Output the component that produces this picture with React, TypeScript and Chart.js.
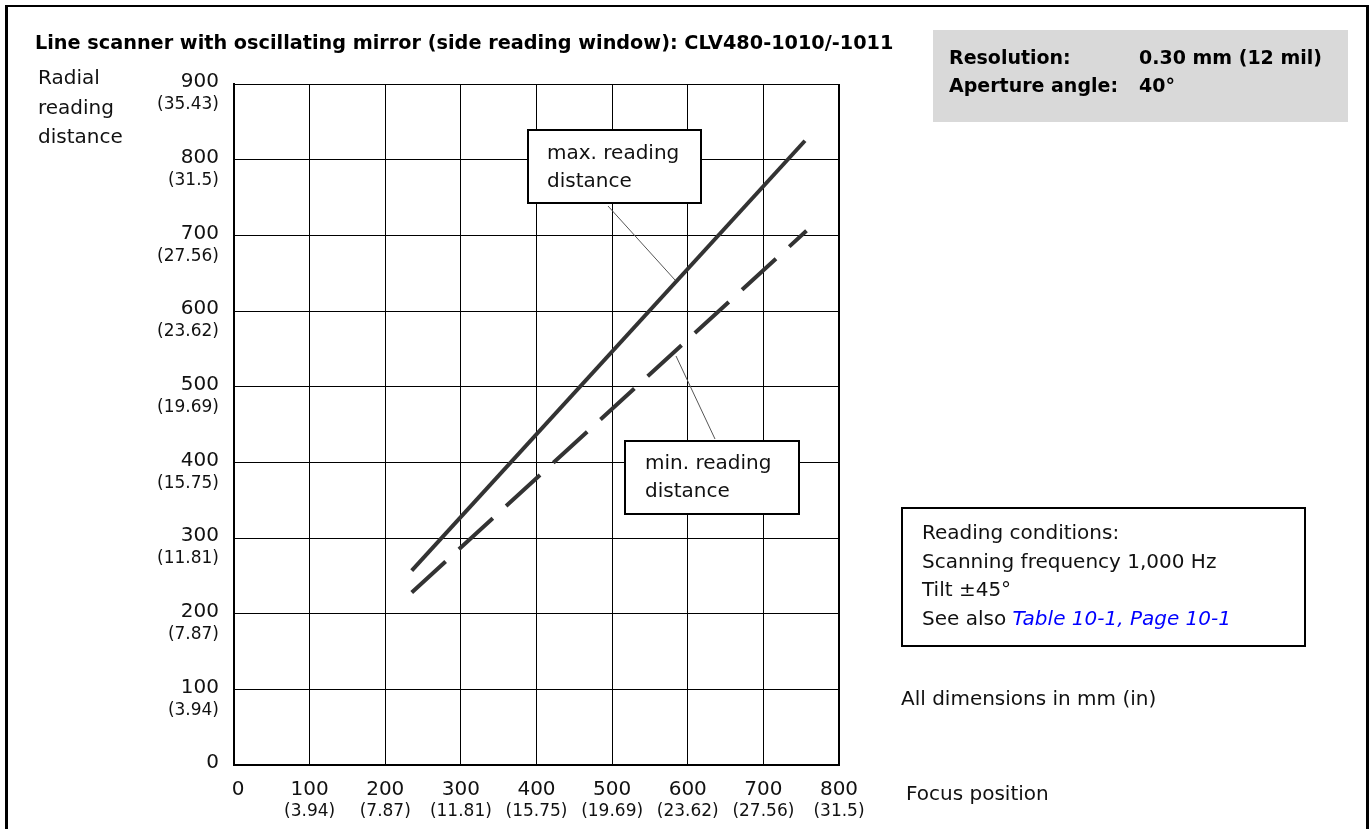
import React, { useEffect, useRef } from "react";
import { Chart, registerables } from "chart.js";

Chart.register(...registerables);

// ---- data ----
const maxFocus = [235, 755];
const maxDistance = [257, 825];
const minFocus = [235, 757];
const minDistance = [228, 706];

const xTickValues = [0, 100, 200, 300, 400, 500, 600, 700, 800];
const xTickInches = ["", "(3.94)", "(7.87)", "(11.81)", "(15.75)", "(19.69)", "(23.62)", "(27.56)", "(31.5)"];
const yTickValues = [0, 100, 200, 300, 400, 500, 600, 700, 800, 900];
const yTickInches = ["", "(3.94)", "(7.87)", "(11.81)", "(15.75)", "(19.69)", "(23.62)", "(27.56)", "(31.5)", "(35.43)"];

const FONT = "'DejaVu Sans', sans-serif";

const tickLabelPlugin = {
  id: "tickLabels",
  afterDraw(chart: any) {
    const ctx = chart.ctx;
    const xs = chart.scales.x;
    const ys = chart.scales.y;
    const area = chart.chartArea;
    ctx.save();
    ctx.fillStyle = "#111";
    ctx.textBaseline = "middle";
    // y ticks
    yTickValues.forEach((v, i) => {
      const py = ys.getPixelForValue(v);
      ctx.textAlign = "right";
      ctx.font = `20px ${FONT}`;
      ctx.fillText(String(v), area.left - 15, py - 2);
      if (yTickInches[i]) {
        ctx.font = `17px ${FONT}`;
        ctx.fillText(yTickInches[i], area.left - 15, py + 21);
      }
    });
    // x ticks
    xTickValues.forEach((v, i) => {
      const px = xs.getPixelForValue(v);
      ctx.textAlign = "center";
      ctx.font = `20px ${FONT}`;
      ctx.fillText(String(v), v === 0 ? px + 4 : px, area.bottom + 25);
      if (xTickInches[i]) {
        ctx.font = `17px ${FONT}`;
        ctx.fillText(xTickInches[i], px, area.bottom + 47);
      }
    });
    // leader lines from the label boxes to the curves
    ctx.strokeStyle = "#555";
    ctx.lineWidth = 1;
    ctx.beginPath();
    ctx.moveTo(608, 206);
    ctx.lineTo(675, 280);
    ctx.moveTo(676, 356);
    ctx.lineTo(715, 439);
    ctx.stroke();
    ctx.restore();
  },
};

function ChartCanvas() {
  const ref = useRef<HTMLCanvasElement | null>(null);
  useEffect(() => {
    if (!ref.current) return;
    const chart = new Chart(ref.current, {
      type: "scatter",
      data: {
        datasets: [
          {
            label: "max. reading distance",
            data: maxFocus.map((x, i) => ({ x, y: maxDistance[i] })),
            showLine: true,
            borderColor: "#333",
            borderWidth: 4,
            pointRadius: 0,
            borderCapStyle: "butt",
          },
          {
            label: "min. reading distance",
            data: minFocus.map((x, i) => ({ x, y: minDistance[i] })),
            showLine: true,
            borderColor: "#333",
            borderWidth: 4,
            borderDash: [46, 18],
            pointRadius: 0,
            borderCapStyle: "butt",
          },
        ],
      },
      options: {
        responsive: false,
        animation: false,
        devicePixelRatio: 1,
        layout: { padding: { left: 234, top: 84, right: 530, bottom: 64 } },
        plugins: { legend: { display: false }, tooltip: { enabled: false }, title: { display: false } },
        scales: {
          x: {
            type: "linear",
            min: 0,
            max: 800,
            ticks: { display: false, stepSize: 100 },
            grid: { color: "#000", lineWidth: 1, drawTicks: false },
            border: { color: "#000", width: 2 },
          },
          y: {
            type: "linear",
            min: 0,
            max: 900,
            ticks: { display: false, stepSize: 100 },
            grid: { color: "#000", lineWidth: 1, drawTicks: false },
            border: { color: "#000", width: 2 },
          },
        },
      } as any,
      plugins: [
        tickLabelPlugin,
        {
          id: "frameBorders",
          afterDraw(c: any) {
            const a = c.chartArea;
            const ctx = c.ctx;
            ctx.save();
            ctx.strokeStyle = "#000";
            ctx.lineWidth = 2;
            ctx.beginPath();
            ctx.moveTo(a.right, a.top);
            ctx.lineTo(a.right, a.bottom);
            ctx.stroke();
            ctx.restore();
          },
        },
      ],
    });
    return () => chart.destroy();
  }, []);
  return <canvas ref={ref} width={1369} height={829} style={{ position: "absolute", left: 0, top: 0, width: 1369, height: 829 }} />;
}

const abs = (l: number, t: number): React.CSSProperties => ({ position: "absolute", left: l, top: t, whiteSpace: "nowrap" });

export default function App() {
  const txt: React.CSSProperties = { fontFamily: FONT, fontSize: 20, color: "#111" };
  return (
    <div style={{ position: "fixed", left: 0, top: 0, width: 1369, height: 829, overflow: "hidden", background: "#fff", fontFamily: FONT }}>
      <ChartCanvas />
      <div style={{ position: "absolute", left: 5, top: 5, width: 1358, height: 900, border: "3px solid #000", borderTopWidth: 2, pointerEvents: "none" }} />
      <div style={{ ...abs(35, 30), fontFamily: FONT, fontWeight: "bold", fontSize: 19.25, lineHeight: "26px", color: "#000" }}>
        Line scanner with oscillating mirror (side reading window): CLV480-1010/-1011
      </div>
      <div style={{ ...abs(38, 63), ...txt, lineHeight: "29.5px" }}>
        Radial
        <br />
        reading
        <br />
        distance
      </div>
      <div style={{ position: "absolute", left: 933, top: 30, width: 415, height: 92, background: "#d9d9d9" }}>
        <div style={{ ...abs(16, 13), fontFamily: FONT, fontWeight: "bold", fontSize: 19, lineHeight: "28px", color: "#000" }}>
          Resolution:
          <br />
          Aperture angle:
        </div>
        <div style={{ ...abs(206, 13), fontFamily: FONT, fontWeight: "bold", fontSize: 19, lineHeight: "28px", color: "#000" }}>
          0.30 mm (12 mil)
          <br />
          40°
        </div>
      </div>
      <div style={{ position: "absolute", left: 527, top: 129, width: 171, height: 71, border: "2px solid #000", background: "#fff", boxSizing: "content-box" }}>
        <div style={{ ...abs(18, 7), ...txt, lineHeight: "28px" }}>
          max. reading
          <br />
          distance
        </div>
      </div>
      <div style={{ position: "absolute", left: 624, top: 440, width: 172, height: 71, border: "2px solid #000", background: "#fff" }}>
        <div style={{ ...abs(19, 6), ...txt, lineHeight: "28px" }}>
          min. reading
          <br />
          distance
        </div>
      </div>
      <div style={{ position: "absolute", left: 901, top: 507, width: 401, height: 136, border: "2px solid #000", background: "#fff" }}>
        <div style={{ ...abs(19, 9), ...txt, lineHeight: "28.7px" }}>
          Reading conditions:
          <br />
          Scanning frequency 1,000 Hz
          <br />
          Tilt ±45°
          <br />
          See also <span style={{ color: "#0000ff", fontStyle: "italic" }}>Table 10-1, Page 10-1</span>
        </div>
      </div>
      <div style={{ ...abs(901, 684), ...txt, lineHeight: "28px" }}>All dimensions in mm (in)</div>
      <div style={{ ...abs(906, 779), ...txt, lineHeight: "28px" }}>Focus position</div>
    </div>
  );
}
